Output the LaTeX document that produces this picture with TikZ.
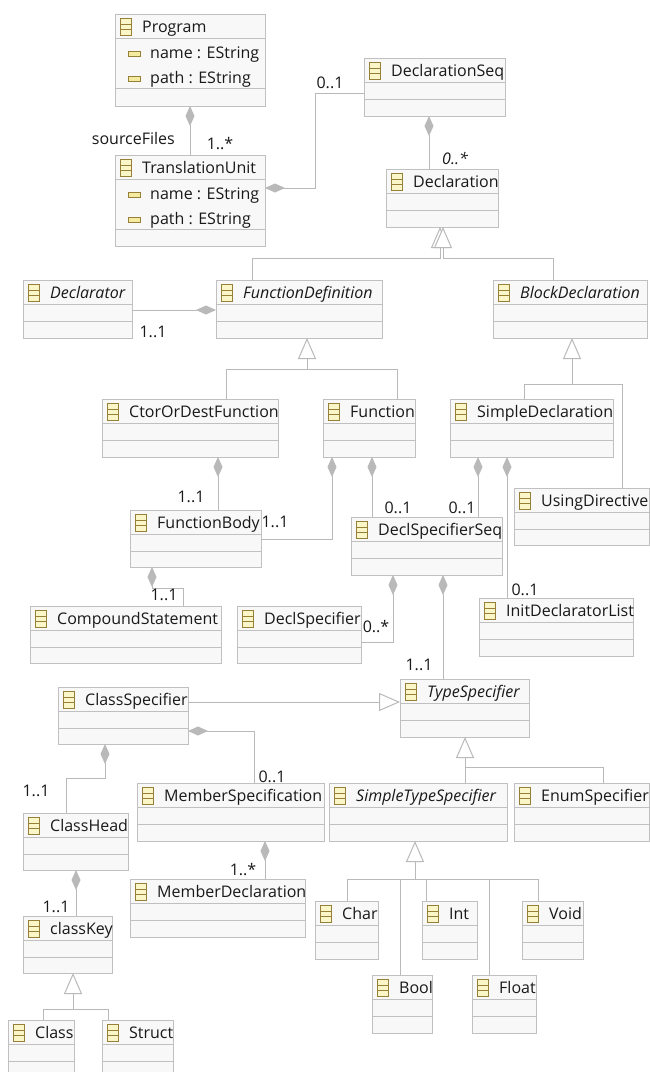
\documentclass[tikz,border=0pt]{standalone}
\usepackage{fontspec}
\setmainfont{Open Sans}
\usetikzlibrary{arrows.meta}
\definecolor{boxgray}{RGB}{192,192,192}
\definecolor{boxfill}{RGB}{248,248,248}
\definecolor{linegray}{RGB}{185,185,185}
\definecolor{txt}{RGB}{25,25,25}
\definecolor{iconborder}{RGB}{150,128,55}
\definecolor{iconfill}{RGB}{250,246,200}
\definecolor{attrfill}{RGB}{245,235,160}
\newcommand\ufont{\fontsize{16}{19}\selectfont}
\tikzset{
  classbox/.style={draw=boxgray, fill=boxfill, line width=1pt, inner sep=0pt, outer sep=0pt},
  sepline/.style={draw=boxgray, line width=1pt},
  conn/.style={draw=linegray, line width=1pt},
  comp/.style={conn, {Diamond[length=20pt,width=9pt,fill=linegray]}-},
  gen/.style={conn, -{Triangle[open,length=21pt,width=18pt,fill=white]}},
  lbl/.style={font=\ufont, text=txt, inner sep=0pt},
  titletext/.style={anchor=base west, inner sep=0pt, font=\ufont, text=txt},
  icon/.style={draw=iconborder, fill=iconfill, line width=0.9pt},
}
% name, x1, y1, x2, y2, title
\newcommand\umlclass[6]{%
  \pgfmathsetmacro\bw{#4-#2}%
  \pgfmathsetmacro\bh{#5-#3}%
  \node[classbox, minimum width=\bw pt, minimum height=\bh pt] (#1) at ({(#2+#4)/2},{(#3+#5)/2}) {};
  \draw[sepline] (#2,#3+24) -- (#4,#3+24);
  \draw[sepline] (#2,#3+41) -- (#4,#3+41);
  \draw[icon] (#2+5.5,#3+4) rectangle (#2+16.5,#3+21);
  \draw[iconborder, line width=0.9pt] (#2+5.5,#3+10.5) -- (#2+16.5,#3+10.5) (#2+5.5,#3+15.5) -- (#2+16.5,#3+15.5);
  \begin{scope}
    \clip (#2,#3) rectangle (#4,#3+24);
    \node[titletext] (#1-t) at (#2+27,#3+18.5) {#6};
  \end{scope}
}
% class with two attributes: name, x1, y1, x2, y2, title
\newcommand\umlattr[6]{%
  \pgfmathsetmacro\bw{#4-#2}%
  \pgfmathsetmacro\bh{#5-#3}%
  \node[classbox, minimum width=\bw pt, minimum height=\bh pt] (#1) at ({(#2+#4)/2},{(#3+#5)/2}) {};
  \draw[sepline] (#2,#3+24) -- (#4,#3+24);
  \draw[sepline] (#2,#3+74.5) -- (#4,#3+74.5);
  \draw[icon] (#2+5.5,#3+4) rectangle (#2+16.5,#3+21);
  \draw[iconborder, line width=0.9pt] (#2+5.5,#3+10.5) -- (#2+16.5,#3+10.5) (#2+5.5,#3+15.5) -- (#2+16.5,#3+15.5);
  \node[titletext] (#1-t) at (#2+27,#3+18.5) {#6};
  \draw[draw=iconborder, fill=attrfill, line width=0.9pt] (#2+13,#3+37) rectangle (#2+25,#3+42);
  \draw[draw=iconborder, fill=attrfill, line width=0.9pt] (#2+13,#3+62) rectangle (#2+25,#3+67);
  \node[titletext] (#1-a1) at (#2+35,#3+44.5) {name : EString};
  \node[titletext] (#1-a2) at (#2+35,#3+69.5) {path : EString};
}
\begin{document}
\begin{tikzpicture}[x=1pt,y=-1pt]
\useasboundingbox (0,0) rectangle (650,1072);
\fill[white] (0,0) rectangle (650,1072);
\clip (0,0) rectangle (650,1072);

% ---------- classes ----------
\umlattr{Program}{115}{14}{265}{106}{Program}
\umlattr{TU}{115}{155}{265}{246}{TranslationUnit}
\umlclass{DeclSeq}{364}{58}{505}{116}{DeclarationSeq}
\umlclass{Declaration}{386}{169}{498}{227}{Declaration}
\umlclass{Declarator}{23}{280}{132}{338}{\itshape Declarator}
\umlclass{FD}{216}{280}{382}{338}{\itshape FunctionDefinition}
\umlclass{BD}{493}{280}{647}{338}{\itshape BlockDeclaration}
\umlclass{CtorOrDest}{102}{399}{278}{457}{CtorOrDestFunction}
\umlclass{Function}{323}{399}{415}{457}{Function}
\umlclass{SimpleDecl}{450}{399}{613}{457}{SimpleDeclaration}
\umlclass{UsingDir}{514}{488}{649}{545}{UsingDirective}
\umlclass{FB}{130}{510}{261}{567}{FunctionBody}
\umlclass{DSS}{351}{517}{502}{575}{DeclSpecifierSeq}
\umlclass{CS}{30}{606}{221}{663}{CompoundStatement}
\umlclass{DeclSpec}{237}{606}{361}{663}{DeclSpecifier}
\umlclass{IDL}{479}{598}{633}{656}{InitDeclaratorList}
\umlclass{ClassSpec}{58}{687}{188}{744}{ClassSpecifier}
\umlclass{TS}{400}{679}{529}{737}{\itshape TypeSpecifier}
\umlclass{CH}{23}{813}{128}{870}{ClassHead}
\umlclass{MS}{137}{783}{324}{841}{MemberSpecification}
\umlclass{STS}{329}{783}{507}{841}{\itshape SimpleTypeSpecifier}
\umlclass{Enum}{514}{783}{649}{841}{EnumSpecifier}
\umlclass{MD}{130}{879}{305}{937}{MemberDeclaration}
\umlclass{classKey}{23}{916}{112}{973}{classKey}
\umlclass{Char}{315}{901}{378}{959}{Char}
\umlclass{Int}{422}{901}{477}{959}{Int}
\umlclass{Void}{522}{901}{583}{959}{Void}
\umlclass{Bool}{372}{975}{432}{1033}{Bool}
\umlclass{Float}{472}{975}{536}{1033}{Float}
\umlclass{Class}{8}{1020}{74}{1078}{Class}
\umlclass{Struct}{102}{1020}{173}{1078}{Struct}

% ---------- connectors ----------
\draw[comp] (Program.south) -- (TU.north);
\draw[comp] (TU.east |- 0,188) -| (315,93) -- (DeclSeq.west |- 0,93);
\draw[comp] (DeclSeq.south -| 429,0) -- (Declaration.north -| 429,0);
\draw[gen] (FD.north -| 252,0) |- (440,258) -- (Declaration.south -| 440,0);
\draw[gen] (BD.north -| 553,0) |- (443,258) -- (Declaration.south -| 443,0);
\draw[comp] (FD.west |- 0,310) -- (Declarator.east |- 0,310);
\draw[gen] (CtorOrDest.north -| 226,0) |- (307,369) -- (FD.south -| 307,0);
\draw[conn] (Function.north -| 397,0) |- (307,369);
\draw[gen] (SimpleDecl.north -| 524,0) |- (572,384) -- (BD.south -| 572,0);
\draw[conn] (UsingDir.north -| 622,0) |- (572,384);
\draw[comp] (CtorOrDest.south -| 218,0) -- (FB.north -| 218,0);
\draw[comp] (Function.south -| 332,0) |- (FB.east |- 0,539);
\draw[comp] (Function.south -| 372,0) -- (DSS.north -| 372,0);
\draw[comp] (SimpleDecl.south -| 478,0) -- (DSS.north -| 478,0);
\draw[comp] (SimpleDecl.south -| 507,0) -- (IDL.north -| 507,0);
\draw[comp] (FB.south -| 152,0) |- (183,588) -- (CS.north -| 183,0);
\draw[comp] (DSS.south -| 393,0) |- (DeclSpec.east |- 0,642);
\draw[comp] (DSS.south -| 443,0) -- (TS.north -| 443,0);
\draw[gen] (ClassSpec.east |- 0,702) -- (TS.west |- 0,702);
\draw[comp] (ClassSpec.east |- 0,731) -| (MS.north -| 254,0);
\draw[comp] (ClassSpec.south -| 105,0) |- (66,778) -- (CH.north -| 66,0);
\draw[gen] (STS.north -| 465,0) -- (TS.south -| 465,0);
\draw[conn] (Enum.north -| 603,0) |- (465,767);
\draw[comp] (MS.south -| 265,0) -- (MD.north -| 265,0);
\draw[gen] (Char.north -| 347,0) |- (415,879) -- (STS.south -| 415,0);
\draw[conn] (Void.north -| 538,0) |- (415,879);
\draw[conn] (Bool.north -| 400,0) -- (400,879);
\draw[conn] (Int.north -| 426,0) -- (426,879);
\draw[conn] (Float.north -| 489,0) -- (489,879);
\draw[comp] (CH.south -| 76,0) -- (classKey.north -| 76,0);
\draw[gen] (Class.north -| 43,0) |- (73,1009) -- (classKey.south -| 73,0);
\draw[conn] (Struct.north -| 108,0) |- (73,1009);

% ---------- labels ----------
\node[lbl, anchor=east] (m1) at (175,138) {sourceFiles};
\node[lbl] (m2) at (220,144) {1..*};
\node[lbl] (m3) at (330,83) {0..1};
\node[lbl] (m4) at (455,159) {\itshape 0..*};
\node[lbl] (m5) at (153,332) {1..1};
\node[lbl] (m6) at (191,497) {1..1};
\node[lbl] (m7) at (275,522) {1..1};
\node[lbl] (m8) at (398,508) {0..1};
\node[lbl] (m9) at (462,508) {0..1};
\node[lbl] (m10) at (525,590) {0..1};
\node[lbl] (m11) at (164,595) {1..1};
\node[lbl] (m12) at (376,627) {0..*};
\node[lbl] (m13) at (419,665) {1..1};
\node[lbl] (m14) at (272,777) {0..1};
\node[lbl] (m15) at (36,791) {1..1};
\node[lbl] (m16) at (243,870) {1..*};
\node[lbl] (m17) at (56,907) {1..1};
\end{tikzpicture}
\end{document}
